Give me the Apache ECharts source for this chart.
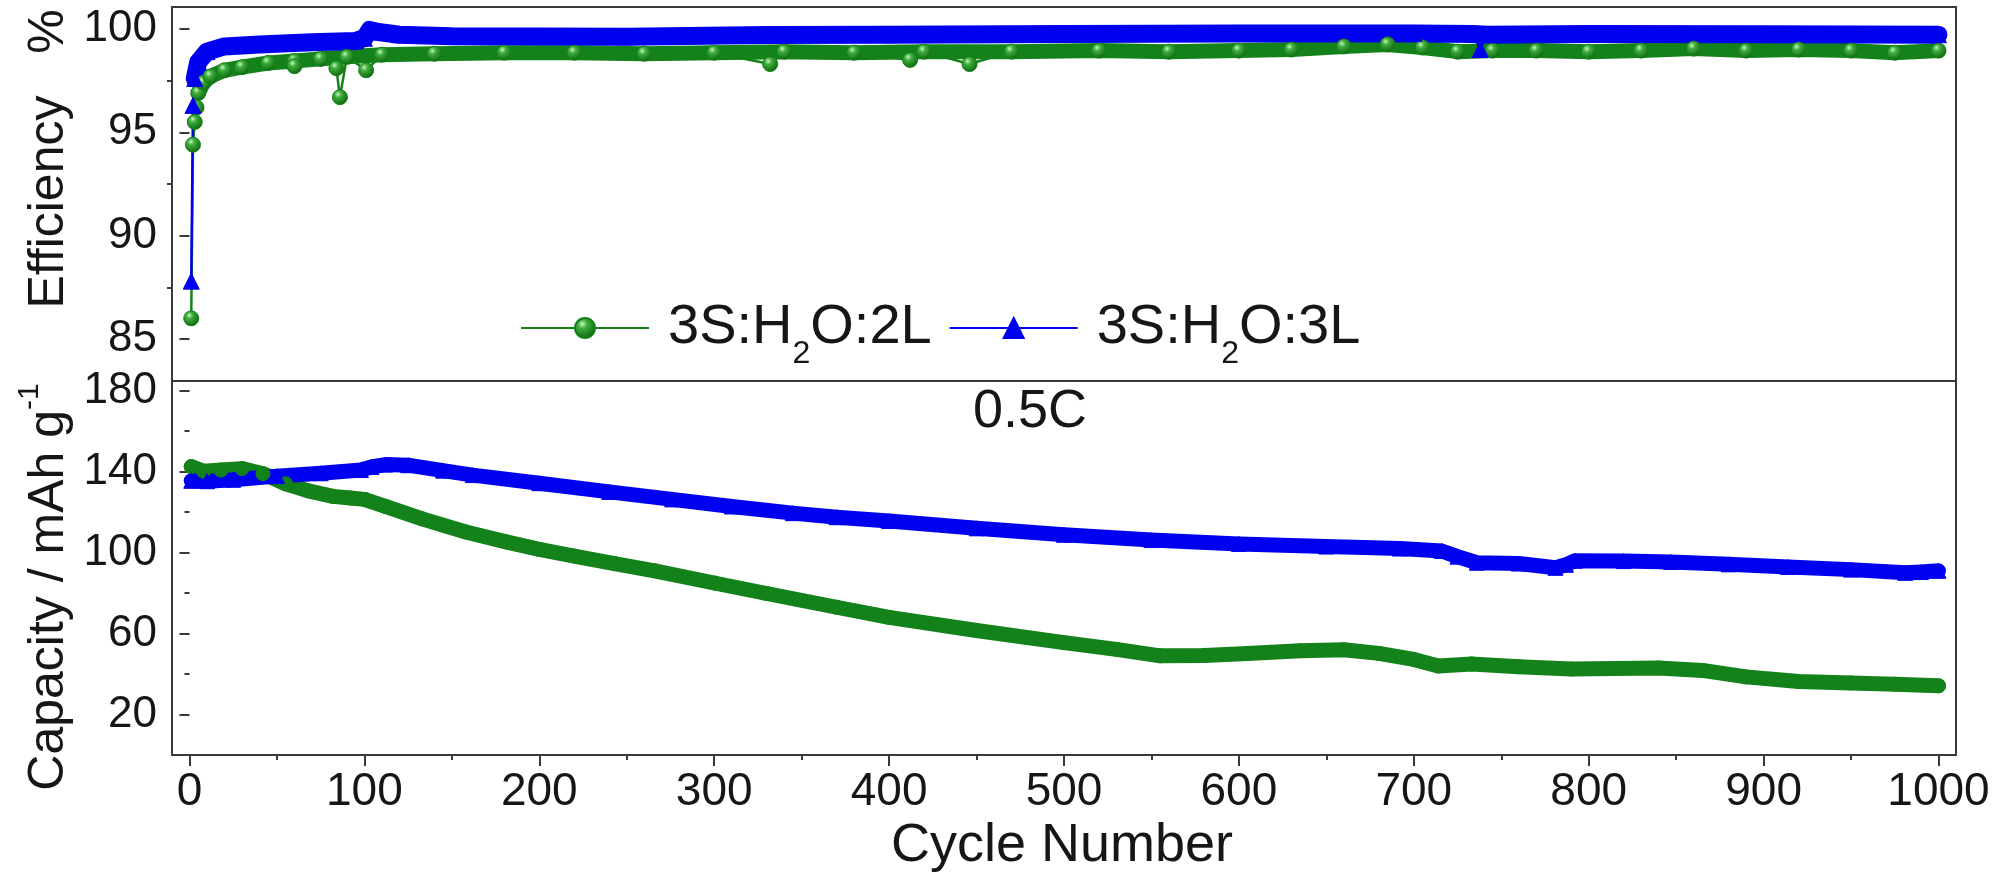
<!DOCTYPE html>
<html>
<head>
<meta charset="utf-8">
<script src="https://cdn.jsdelivr.net/npm/echarts@6/dist/echarts.min.js"></script>
<style>
html,body{margin:0;padding:0;background:#ffffff;}
#chart{width:2010px;height:878px;}
</style>
</head>
<body>
<div id="chart"></div>
<script>
// ---------------- data ----------------
const seriesNames = ['3S:H2O:2L', '3S:H2O:3L'];

const xTicks = [0, 100, 200, 300, 400, 500, 600, 700, 800, 900, 1000];
const xMinorTicks = [50, 150, 250, 350, 450, 550, 650, 750, 850, 950];
const effTicks = [85, 90, 95, 100];
const effMinorTicks = [87.5, 92.5, 97.5];
const capTicks = [20, 60, 100, 140, 180];
const capMinorTicks = [40, 80, 120, 160];

// Coulombic efficiency (%) – 3S:H2O:2L
const effGreenEarly = [[1, 86.0], [2, 94.4], [3, 95.5], [4, 96.2]];
const effGreenTrend = [[5, 96.9], [8, 97.4], [12, 97.7], [20, 98.0], [30, 98.15], [45, 98.35], [60, 98.45], [75, 98.55],
  [90, 98.65], [110, 98.75], [140, 98.8], [180, 98.85], [220, 98.85], [260, 98.8], [300, 98.85], [340, 98.9],
  [380, 98.85], [420, 98.9], [470, 98.9], [520, 98.95], [560, 98.9], [600, 98.95], [630, 99.0], [660, 99.15],
  [685, 99.25], [705, 99.1], [725, 98.9], [745, 98.95], [770, 98.95], [800, 98.9], [830, 98.95], [860, 99.05],
  [890, 98.95], [920, 99.0], [950, 98.95], [975, 98.85], [1000, 98.95]];
const effGreenDips = [[60, 98.2], [84, 98.1], [86, 96.7], [101, 98.0], [332, 98.3], [412, 98.5], [446, 98.3]];

// Coulombic efficiency (%) – 3S:H2O:3L
const effBlueEarly = [[1, 87.8], [2, 96.3]];
const effBlueTrend = [[3, 97.6], [5, 98.4], [10, 98.9], [20, 99.15], [40, 99.25], [70, 99.35], [95, 99.42], [100, 99.55],
  [103, 99.95], [108, 99.85], [120, 99.72], [150, 99.65], [250, 99.62], [330, 99.7], [400, 99.72], [500, 99.75],
  [600, 99.78], [700, 99.78], [734, 99.75], [742, 99.72], [800, 99.76], [900, 99.74], [1000, 99.72]];
const effBlueDips = [[738, 99.0]];

// Specific capacity (mAh/g)
const capGreen = [[1, 142.5], [8, 140.2], [18, 140.8], [30, 141.5], [42, 139], [55, 134], [68, 130.5], [82, 127.8],
  [92, 127], [100, 126.3], [112, 122.8], [133, 116.7], [158, 110.2], [181, 105.3], [200, 101.6], [220, 98.3],
  [243, 94.6], [266, 91], [300, 85], [330, 79.8], [370, 73], [400, 68], [450, 61.5], [500, 55.5], [530, 52.2],
  [555, 49], [580, 49.2], [605, 50.2], [635, 51.5], [660, 52], [680, 50.2], [700, 47.2], [714, 44], [733, 45],
  [760, 43.6], [790, 42.5], [840, 43], [865, 41.8], [890, 38.6], [920, 36.3], [950, 35.6], [975, 35], [1000, 34.2]];
const capBlue = [[1, 135.5], [10, 135.3], [25, 136], [50, 137.8], [75, 139.2], [98, 140.8], [104, 142.3], [112, 143.5],
  [125, 143.2], [145, 140.5], [162, 138.3], [200, 134.3], [240, 130], [276, 126.3], [310, 122.8], [345, 119.5],
  [370, 117.5], [400, 115.6], [450, 112], [500, 108.8], [550, 106.2], [600, 104.3], [650, 103], [692, 102],
  [716, 100.8], [725, 98], [736, 95], [760, 94.6], [781, 92.5], [787, 94], [792, 96], [820, 95.8], [847, 95.4],
  [880, 94.2], [914, 92.9], [950, 91.6], [981, 90], [990, 90.4], [1000, 91]];

// ---------------- styling / layout ----------------
const FONT = '"Liberation Sans", Arial, Helvetica, sans-serif';
const TXT = '#161616';
const FRAME = '#3a3a3a';
const GREEN = '#14821a';
const BLUE = '#0000f0';
const X_MIN = -10, X_MAX = 1010;
const EFF_MIN = 82.97, EFF_MAX = 101.06;
const CAP_MIN = 0, CAP_MAX = 184.8;

const greenBall = new echarts.graphic.RadialGradient(0.38, 0.32, 0.7, [
  { offset: 0, color: '#c6f5bf' },
  { offset: 0.3, color: '#3fae3c' },
  { offset: 1, color: '#0b650d' }
]);

function sorted(...arrs) {
  return [].concat(...arrs).slice().sort((a, b) => a[0] - b[0]);
}

function xAxisBase(gridIndex) {
  return {
    type: 'value', gridIndex: gridIndex, min: X_MIN, max: X_MAX, position: 'bottom',
    axisLine: { show: false }, splitLine: { show: false },
    axisTick: { show: false }, axisLabel: { show: false }
  };
}
function yAxisBase(gridIndex, min, max) {
  return {
    type: 'value', gridIndex: gridIndex, min: min, max: max, position: 'left',
    axisLine: { show: false }, splitLine: { show: false },
    axisTick: { show: false }, axisLabel: { show: false }
  };
}
const tickLine = { color: FRAME, width: 2 };
const plainNum = function (v) { return String(v); };

const xAxes = [
  xAxisBase(0),
  Object.assign(xAxisBase(1), {
    axisTick: { show: true, inside: false, length: 11, lineStyle: tickLine, customValues: xTicks },
    axisLabel: { show: true, margin: 14, customValues: xTicks, formatter: plainNum, fontSize: 46, fontFamily: FONT, color: TXT }
  }),
  Object.assign(xAxisBase(1), {
    axisTick: { show: true, inside: false, length: 5, lineStyle: tickLine, customValues: xMinorTicks }
  })
];
const yAxes = [
  Object.assign(yAxisBase(0, EFF_MIN, EFF_MAX), {
    axisTick: { show: true, inside: false, length: 10, lineStyle: tickLine, customValues: effTicks },
    axisLabel: { show: true, margin: 15, customValues: effTicks, formatter: plainNum, fontSize: 44, fontFamily: FONT, color: TXT }
  }),
  Object.assign(yAxisBase(0, EFF_MIN, EFF_MAX), {
    axisTick: { show: true, inside: false, length: 5, lineStyle: tickLine, customValues: effMinorTicks }
  }),
  Object.assign(yAxisBase(1, CAP_MIN, CAP_MAX), {
    axisTick: { show: true, inside: false, length: 10, lineStyle: tickLine, customValues: capTicks },
    axisLabel: { show: true, margin: 15, customValues: capTicks, formatter: plainNum, fontSize: 44, fontFamily: FONT, color: TXT }
  }),
  Object.assign(yAxisBase(1, CAP_MIN, CAP_MAX), {
    axisTick: { show: true, inside: false, length: 5, lineStyle: tickLine, customValues: capMinorTicks }
  })
];

function markerSeries(name, data, xi, yi, color, symbol, size, fill) {
  return {
    type: 'line', name: name, data: data, xAxisIndex: xi, yAxisIndex: yi,
    symbol: symbol, symbolSize: size, showSymbol: true, showAllSymbol: true,
    lineStyle: { color: color, width: 2.5 },
    itemStyle: { color: fill, borderColor: color, borderWidth: 1 },
    clip: true, silent: true, z: 2
  };
}
function bandSeries(name, data, xi, yi, color, width) {
  return {
    type: 'line', name: name, data: data, xAxisIndex: xi, yAxisIndex: yi,
    symbol: 'none', showSymbol: false,
    lineStyle: { color: color, width: width, cap: 'round', join: 'round' },
    itemStyle: { color: color },
    clip: true, silent: true, z: 2
  };
}

const series = [
  // efficiency panel
  markerSeries(seriesNames[0], sorted(effGreenEarly, effGreenTrend, effGreenDips), 0, 0, GREEN, 'circle', 15, greenBall),
  bandSeries(seriesNames[0], effGreenTrend, 0, 0, GREEN, 15),
  markerSeries(seriesNames[1], sorted(effBlueEarly, effBlueTrend, effBlueDips), 0, 0, BLUE, 'triangle', 16, BLUE),
  bandSeries(seriesNames[1], effBlueTrend, 0, 0, BLUE, 18),
  // capacity panel
  markerSeries(seriesNames[0], capGreen, 1, 2, GREEN, 'circle', 14, GREEN),
  bandSeries(seriesNames[0], capGreen, 1, 2, GREEN, 15),
  markerSeries(seriesNames[1], capBlue, 1, 2, BLUE, 'triangle', 15, BLUE),
  bandSeries(seriesNames[1], capBlue, 1, 2, BLUE, 15)
];

const option = {
  animation: false,
  backgroundColor: '#ffffff',
  grid: [
    { left: 172, top: 7, width: 1784, height: 374, show: true, borderColor: FRAME, borderWidth: 2, backgroundColor: 'rgba(0,0,0,0)', containLabel: false },
    { left: 172, top: 381, width: 1784, height: 374, show: true, borderColor: FRAME, borderWidth: 2, backgroundColor: 'rgba(0,0,0,0)', containLabel: false }
  ],
  xAxis: xAxes,
  yAxis: yAxes,
  legend: {
    data: seriesNames,
    left: 520, top: 298, padding: 0,
    orient: 'horizontal',
    itemWidth: 128, itemHeight: 25, itemGap: 17,
    selectedMode: false,
    formatter: function (n) { return n.replace('H2O', 'H{sub|2}O'); },
    textStyle: {
      fontSize: 56, fontFamily: FONT, color: TXT, lineHeight: 60, padding: [0, 0, 0, 14],
      rich: { sub: { fontSize: 32, lineHeight: 32, fontFamily: FONT, color: TXT, verticalAlign: 'top', padding: [40, 0, 0, 0] } }
    }
  },
  graphic: [
    {
      type: 'text', x: 49, y: 159, rotation: Math.PI / 2, silent: true,
      style: { text: 'Efficiency   %', font: '50px ' + FONT, fill: TXT, align: 'center', verticalAlign: 'middle', textAlign: 'center', textVerticalAlign: 'middle' }
    },
    {
      type: 'text', x: 49, y: 587, rotation: Math.PI / 2, silent: true,
      style: {
        text: 'Capacity / mAh g{sup|-1}', font: '50px ' + FONT, fill: TXT, lineHeight: 68,
        align: 'center', verticalAlign: 'middle', textAlign: 'center', textVerticalAlign: 'middle',
        rich: { sup: { fontSize: 30, lineHeight: 30, fontFamily: FONT, fill: TXT, color: TXT, verticalAlign: 'top' } }
      }
    },
    {
      type: 'text', x: 1062, y: 846, silent: true,
      style: { text: 'Cycle Number', font: '54px ' + FONT, fill: TXT, align: 'center', verticalAlign: 'middle', textAlign: 'center', textVerticalAlign: 'middle' }
    },
    {
      type: 'text', x: 1030, y: 412, silent: true,
      style: { text: '0.5C', font: '54px ' + FONT, fill: TXT, align: 'center', verticalAlign: 'middle', textAlign: 'center', textVerticalAlign: 'middle' }
    }
  ],
  series: series
};

const chart = echarts.init(document.getElementById('chart'), null, { renderer: 'canvas', width: 2010, height: 878 });
chart.setOption(option);
</script>
</body>
</html>
